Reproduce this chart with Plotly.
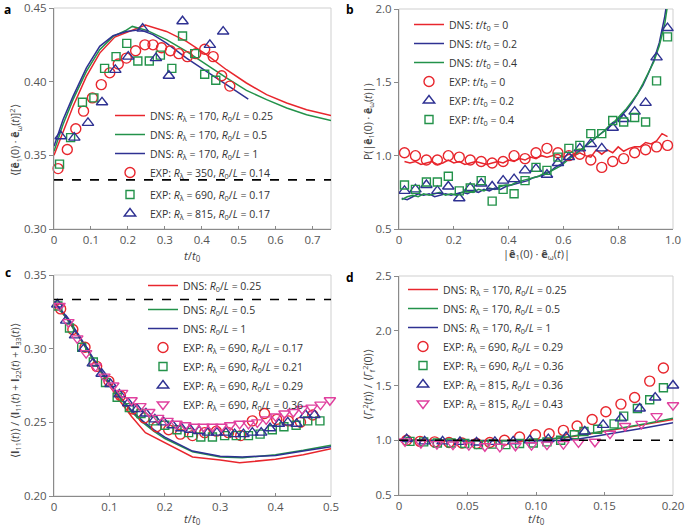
import plotly.graph_objects as go

W, H = 685, 527
RED = "#e8262d"; GREEN = "#23924a"; BLUE = "#2e3192"; PINK = "#e0409e"

# ---------------- panel a ----------------
a_red_line_x = [0, 0.0244, 0.0515, 0.0877, 0.1238, 0.1645, 0.205, 0.2476, 0.3045, 0.3587, 0.413, 0.467, 0.521, 0.5756, 0.63, 0.684, 0.75]
a_red_line_y = [0.350, 0.3663, 0.3832, 0.4036, 0.4194, 0.4303, 0.4341, 0.4384, 0.4341, 0.4273, 0.4183, 0.4081, 0.3991, 0.3912, 0.3855, 0.381, 0.3771]
a_grn_line_x = [0, 0.0244, 0.0515, 0.0877, 0.1238, 0.16, 0.196, 0.212, 0.2515, 0.3045, 0.3587, 0.413, 0.467, 0.521, 0.5756, 0.63, 0.684, 0.75]
a_grn_line_y = [0.3527, 0.371, 0.3878, 0.407, 0.4217, 0.4307, 0.435, 0.4375, 0.4348, 0.4285, 0.4206, 0.4115, 0.4025, 0.3941, 0.3878, 0.3821, 0.3776, 0.3737]
a_blu_line_x = [0, 0.0244, 0.0515, 0.0877, 0.1238, 0.16, 0.196, 0.232, 0.268, 0.3045, 0.3587, 0.413, 0.467, 0.526]
a_blu_line_y = [0.3561, 0.3742, 0.390, 0.4093, 0.424, 0.4312, 0.4341, 0.4353, 0.4319, 0.4262, 0.416, 0.407, 0.398, 0.3882]
a_red_pts_x = [0.011, 0.036, 0.059, 0.080, 0.104, 0.128, 0.151, 0.174, 0.196, 0.221, 0.246, 0.268, 0.291, 0.315, 0.338, 0.361, 0.384, 0.408, 0.431, 0.454, 0.476]
a_red_pts_y = [0.341, 0.354, 0.368, 0.380, 0.389, 0.398, 0.406, 0.412, 0.416, 0.421, 0.425, 0.425, 0.423, 0.421, 0.419, 0.417, 0.419, 0.422, 0.417, 0.404, 0.397]
a_grn_pts_x = [0.015, 0.045, 0.077, 0.108, 0.137, 0.168, 0.197, 0.227, 0.258, 0.288, 0.319, 0.348, 0.381, 0.408, 0.438]
a_grn_pts_y = [0.344, 0.362, 0.386, 0.389, 0.409, 0.417, 0.426, 0.414, 0.414, 0.418, 0.409, 0.431, 0.419, 0.405, 0.401]
a_blu_pts_x = [0.018, 0.055, 0.092, 0.130, 0.166, 0.201, 0.240, 0.276, 0.311, 0.348, 0.422, 0.458]
a_blu_pts_y = [0.363, 0.362, 0.372, 0.386, 0.408, 0.417, 0.436, 0.416, 0.404, 0.441, 0.425, 0.434]
a_ref = 1 / 3
a_x_ticks = [0, 0.1, 0.2, 0.3, 0.4, 0.5, 0.6, 0.7]
a_x_text = ["0", "0.1", "0.2", "0.3", "0.4", "0.5", "0.6", "0.7"]
a_y_ticks = [0.30, 0.35, 0.40, 0.45]

# ---------------- panel b ----------------
b_pts_x = [0.02, 0.06, 0.10, 0.14, 0.18, 0.22, 0.26, 0.30, 0.34, 0.38, 0.42, 0.46, 0.50, 0.54, 0.58, 0.62, 0.66, 0.70, 0.74, 0.78, 0.82, 0.86, 0.90, 0.94, 0.98]
b_red_pts_y = [1.02, 1.00, 0.97, 0.97, 1.00, 0.99, 0.97, 0.96, 0.95, 0.96, 1.00, 0.98, 1.02, 1.05, 1.02, 1.00, 1.01, 0.97, 0.92, 0.96, 0.98, 1.02, 1.04, 1.06, 1.07]
b_blu_pts_y = [0.76, 0.77, 0.80, 0.76, 0.79, 0.71, 0.78, 0.81, 0.79, 0.83, 0.84, 0.90, 0.91, 0.87, 0.95, 0.99, 1.05, 1.08, 1.05, 1.19, 1.25, 1.30, 1.36, 1.67, 1.87]
b_grn_pts_y = [0.80, 0.77, 0.82, 0.82, 0.86, 0.76, 0.78, 0.83, 0.69, 0.77, 0.74, 0.83, 0.92, 0.90, 0.99, 1.05, 1.07, 1.15, 1.15, 1.24, 1.23, 1.26, 1.23, 1.51, 1.81]
b_red_line_x = [0.02, 0.04, 0.06, 0.08, 0.10, 0.12, 0.14, 0.16, 0.18, 0.20, 0.22, 0.24, 0.26, 0.28, 0.30, 0.32, 0.34, 0.36, 0.38, 0.40, 0.42, 0.44, 0.46, 0.48, 0.50, 0.52, 0.54, 0.56, 0.58, 0.60, 0.62, 0.64, 0.66, 0.68, 0.70, 0.72, 0.74, 0.76, 0.78, 0.80, 0.82, 0.84, 0.86, 0.88, 0.90, 0.92, 0.94, 0.96, 0.98]
b_red_line_y = [0.96, 0.95, 0.96, 0.94, 0.95, 0.96, 0.94, 0.95, 0.97, 0.95, 0.96, 0.94, 0.95, 0.96, 0.95, 0.94, 0.95, 0.96, 0.95, 0.97, 0.96, 0.98, 0.97, 0.99, 0.98, 1.00, 0.99, 1.00, 1.01, 0.99, 1.01, 1.00, 1.02, 1.00, 0.99, 1.04, 1.01, 1.04, 1.02, 1.06, 1.03, 1.05, 1.06, 1.06, 1.09, 1.08, 1.10, 1.15, 1.13]
b_line_x = [0.01, 0.03, 0.05, 0.07, 0.09, 0.11, 0.13, 0.15, 0.17, 0.19, 0.21, 0.23, 0.25, 0.27, 0.29, 0.31, 0.33, 0.35, 0.37, 0.39, 0.41, 0.43, 0.45, 0.47, 0.49, 0.51, 0.53, 0.55, 0.57, 0.59, 0.61, 0.63, 0.65, 0.67, 0.69, 0.71, 0.73, 0.75, 0.77, 0.79, 0.81, 0.83, 0.85, 0.87, 0.89, 0.91, 0.93, 0.95, 0.97, 0.99]
b_blu_line_y = [0.71, 0.70, 0.72, 0.74, 0.73, 0.74, 0.72, 0.73, 0.74, 0.73, 0.74, 0.75, 0.74, 0.76, 0.75, 0.77, 0.76, 0.78, 0.77, 0.79, 0.80, 0.81, 0.82, 0.83, 0.85, 0.86, 0.87, 0.89, 0.92, 0.94, 0.97, 1.00, 1.02, 1.05, 1.08, 1.11, 1.14, 1.17, 1.20, 1.23, 1.27, 1.31, 1.36, 1.42, 1.48, 1.56, 1.65, 1.77, 1.95, 2.20]
b_grn_line_y = [0.70, 0.72, 0.73, 0.72, 0.74, 0.73, 0.74, 0.75, 0.73, 0.74, 0.73, 0.75, 0.76, 0.75, 0.77, 0.76, 0.78, 0.77, 0.79, 0.80, 0.80, 0.82, 0.83, 0.84, 0.85, 0.86, 0.88, 0.89, 0.91, 0.93, 0.96, 0.99, 1.02, 1.05, 1.08, 1.11, 1.14, 1.17, 1.21, 1.24, 1.28, 1.32, 1.37, 1.42, 1.49, 1.56, 1.64, 1.75, 1.90, 2.15]
b_x_ticks = [0, 0.2, 0.4, 0.6, 0.8, 1.0]
b_x_text = ["0", "0.2", "0.4", "0.6", "0.8", "1.0"]
b_y_ticks = [0.5, 1.0, 1.5, 2.0]

# ---------------- panel c ----------------
c_red_line_x = [0, 0.02, 0.04, 0.06, 0.08, 0.10, 0.12, 0.14, 0.165, 0.20, 0.25, 0.30, 0.335, 0.40, 0.45, 0.50]
c_red_line_y = [0.331, 0.322, 0.311, 0.299, 0.287, 0.275, 0.264, 0.254, 0.243, 0.236, 0.2265, 0.2245, 0.2225, 0.225, 0.228, 0.232]
c_line_x = [0, 0.02, 0.04, 0.06, 0.08, 0.10, 0.12, 0.14, 0.16, 0.18, 0.20, 0.25, 0.30, 0.34, 0.40, 0.45, 0.50]
c_grn_line_y = [0.331, 0.322, 0.311, 0.299, 0.287, 0.276, 0.266, 0.257, 0.250, 0.244, 0.239, 0.230, 0.2265, 0.226, 0.228, 0.231, 0.2345]
c_blu_line_y = [0.332, 0.323, 0.312, 0.300, 0.288, 0.277, 0.267, 0.258, 0.251, 0.245, 0.240, 0.2305, 0.227, 0.2265, 0.2275, 0.2305, 0.2335]
c_red_pts_x = [0.012, 0.034, 0.056, 0.077, 0.099, 0.120, 0.142, 0.163, 0.185, 0.207, 0.228, 0.250, 0.272, 0.293, 0.315, 0.337, 0.358, 0.380, 0.402, 0.423, 0.445, 0.467]
c_red_pts_y = [0.327, 0.313, 0.301, 0.288, 0.278, 0.268, 0.259, 0.253, 0.247, 0.245, 0.242, 0.241, 0.243, 0.244, 0.243, 0.241, 0.251, 0.256, 0.252, 0.251, 0.250, 0.255]
c_grn_pts_x = [0.007, 0.028, 0.050, 0.071, 0.093, 0.114, 0.136, 0.157, 0.179, 0.200, 0.222, 0.243, 0.265, 0.286, 0.308, 0.329, 0.351, 0.372, 0.394, 0.415, 0.437, 0.458, 0.480]
c_grn_pts_y = [0.329, 0.314, 0.301, 0.291, 0.277, 0.267, 0.260, 0.256, 0.251, 0.248, 0.245, 0.243, 0.240, 0.240, 0.241, 0.241, 0.241, 0.242, 0.245, 0.247, 0.248, 0.251, 0.251]
c_blu_pts_x = [0.006, 0.022, 0.038, 0.054, 0.070, 0.086, 0.102, 0.118, 0.134, 0.150, 0.166, 0.182, 0.198, 0.214, 0.230, 0.246, 0.262, 0.278, 0.294, 0.310, 0.326, 0.342, 0.358, 0.374, 0.390, 0.406, 0.422, 0.438, 0.454, 0.470]
c_blu_pts_y = [0.330, 0.319, 0.309, 0.300, 0.290, 0.283, 0.276, 0.269, 0.263, 0.259, 0.256, 0.252, 0.250, 0.248, 0.246, 0.245, 0.244, 0.243, 0.243, 0.243, 0.242, 0.242, 0.243, 0.243, 0.246, 0.249, 0.250, 0.249, 0.255, 0.255]
c_pnk_pts_x = [0.010, 0.026, 0.042, 0.058, 0.075, 0.091, 0.107, 0.123, 0.140, 0.156, 0.172, 0.188, 0.205, 0.221, 0.237, 0.253, 0.270, 0.286, 0.302, 0.318, 0.335, 0.351, 0.367, 0.383, 0.400, 0.416, 0.432, 0.448, 0.465, 0.481, 0.498]
c_pnk_pts_y = [0.329, 0.318, 0.307, 0.297, 0.288, 0.281, 0.275, 0.270, 0.265, 0.261, 0.257, 0.253, 0.251, 0.249, 0.248, 0.247, 0.247, 0.247, 0.247, 0.248, 0.249, 0.249, 0.250, 0.252, 0.254, 0.256, 0.257, 0.259, 0.260, 0.262, 0.265]
c_ref = 1 / 3
c_x_ticks = [0, 0.1, 0.2, 0.3, 0.4, 0.5]
c_x_text = ["0", "0.1", "0.2", "0.3", "0.4", "0.5"]
c_y_ticks = [0.20, 0.25, 0.30, 0.35]

# ---------------- panel d ----------------
d_line_x = [0, 0.05, 0.10, 0.12, 0.14, 0.16, 0.18, 0.20]
d_red_line_y = [1.0, 0.995, 1.0, 1.02, 1.06, 1.10, 1.145, 1.19]
d_grn_line_y = [1.0, 0.995, 1.0, 1.025, 1.065, 1.105, 1.15, 1.20]
d_blu_line_x = [0, 0.05, 0.10, 0.12, 0.13, 0.14, 0.16, 0.18, 0.20]
d_blu_line_y = [1.0, 0.995, 0.995, 1.0, 1.01, 1.03, 1.07, 1.115, 1.16]
d_red_pts_x = [0.0056, 0.0153, 0.026, 0.0365, 0.046, 0.0566, 0.0663, 0.077, 0.088, 0.0996, 0.1096, 0.120, 0.130, 0.141, 0.151, 0.162, 0.172, 0.183, 0.193]
d_red_pts_y = [1.0, 0.99, 0.985, 0.98, 0.975, 0.97, 0.98, 1.0, 1.03, 1.05, 1.06, 1.09, 1.13, 1.19, 1.26, 1.33, 1.39, 1.54, 1.66]
d_grn_pts_x = [0.008, 0.018, 0.028, 0.038, 0.048, 0.058, 0.068, 0.078, 0.088, 0.098, 0.108, 0.118, 0.128, 0.135, 0.145, 0.157, 0.164, 0.174, 0.183, 0.193]
d_grn_pts_y = [0.99, 0.985, 0.975, 0.975, 0.97, 0.96, 0.965, 0.96, 0.97, 0.975, 0.985, 1.0, 1.05, 1.08, 1.10, 1.15, 1.22, 1.29, 1.37, 1.48]
d_blu_pts_x = [0.0056, 0.0187, 0.0318, 0.0445, 0.0566, 0.070, 0.0834, 0.0955, 0.109, 0.122, 0.1356, 0.149, 0.162, 0.1757, 0.187, 0.200]
d_blu_pts_y = [1.01, 0.99, 0.99, 0.985, 0.98, 0.985, 0.99, 1.0, 1.01, 1.03, 1.08, 1.14, 1.20, 1.29, 1.39, 1.50]
d_pnk_pts_x = [0.0044, 0.016, 0.0277, 0.0394, 0.051, 0.0627, 0.0736, 0.085, 0.0967, 0.108, 0.120, 0.131, 0.143, 0.154, 0.165, 0.177, 0.188, 0.200]
d_pnk_pts_y = [0.99, 0.975, 0.965, 0.96, 0.955, 0.945, 0.94, 0.95, 0.955, 0.96, 0.965, 0.98, 0.986, 1.06, 1.13, 1.15, 1.22, 1.32]
d_ref = 1.0
d_x_ticks = [0, 0.05, 0.10, 0.15, 0.20]
d_x_text = ["0", "0.05", "0.10", "0.15", "0.20"]
d_y_ticks = [0.5, 1.0, 1.5, 2.0, 2.5]

# ---------------- labels ----------------
RL = "<i>R</i><sub>λ</sub>"
RO = "<i>R</i><sub>0</sub>/<i>L</i>"
TT = "<i>t</i>/<i>t</i><sub>0</sub>"

fig = go.Figure()

def line(x, y, color, name, xa, ya, legend, group=None, dash=None, show=True):
    fig.add_trace(go.Scatter(x=x, y=y, mode="lines", name=name, xaxis=xa, yaxis=ya,
                             line=dict(color=color, width=1.5 if dash is None else 1.6, dash=dash),
                             legend=legend, legendgroup=group, showlegend=show))

def pts(x, y, color, sym, name, xa, ya, legend, group=None, size=9):
    fig.add_trace(go.Scatter(x=x, y=y, mode="markers", name=name, xaxis=xa, yaxis=ya,
                             marker=dict(symbol=sym, color=color, size=size,
                                         line=dict(color=color, width=1.4)),
                             legend=legend, legendgroup=group, cliponaxis=False))

# panel a
line(a_red_line_x, a_red_line_y, RED, f"DNS: {RL} = 170, {RO} = 0.25", "x", "y", "legend", "g1")
line(a_grn_line_x, a_grn_line_y, GREEN, f"DNS: {RL} = 170, {RO} = 0.5", "x", "y", "legend", "g1")
line(a_blu_line_x, a_blu_line_y, BLUE, f"DNS: {RL} = 170, {RO} = 1", "x", "y", "legend", "g1")
pts(a_red_pts_x, a_red_pts_y, RED, "circle-open", f"EXP: {RL} = 350, {RO} = 0.14", "x", "y", "legend", "g1", 10)
pts(a_grn_pts_x, a_grn_pts_y, GREEN, "square-open", f"EXP: {RL} = 690, {RO} = 0.17", "x", "y", "legend", "g2", 8)
pts(a_blu_pts_x, a_blu_pts_y, BLUE, "triangle-up-open", f"EXP: {RL} = 815, {RO} = 0.17", "x", "y", "legend", "g2", 10)
line([0, 0.75], [a_ref, a_ref], "black", "ref", "x", "y", "legend", dash="dash", show=False)

# panel b
line(b_red_line_x, b_red_line_y, RED, f"DNS: {TT} = 0", "x2", "y2", "legend2")
line(b_line_x, b_blu_line_y, BLUE, f"DNS: {TT} = 0.2", "x2", "y2", "legend2")
line(b_line_x, b_grn_line_y, GREEN, f"DNS: {TT} = 0.4", "x2", "y2", "legend2")
pts(b_pts_x, b_red_pts_y, RED, "circle-open", f"EXP: {TT} = 0", "x2", "y2", "legend2", size=10)
pts(b_pts_x, b_blu_pts_y, BLUE, "triangle-up-open", f"EXP: {TT} = 0.2", "x2", "y2", "legend2", size=10)
pts(b_pts_x, b_grn_pts_y, GREEN, "square-open", f"EXP: {TT} = 0.4", "x2", "y2", "legend2", size=8)

# panel c
line(c_red_line_x, c_red_line_y, RED, f"DNS: {RO} = 0.25", "x3", "y3", "legend3", "h1")
line(c_line_x, c_grn_line_y, GREEN, f"DNS: {RO} = 0.5", "x3", "y3", "legend3", "h2")
line(c_line_x, c_blu_line_y, BLUE, f"DNS: {RO} = 1", "x3", "y3", "legend3", "h2")
pts(c_red_pts_x, c_red_pts_y, RED, "circle-open", f"EXP: {RL} = 690, {RO} = 0.17", "x3", "y3", "legend3", "h2", 10)
pts(c_grn_pts_x, c_grn_pts_y, GREEN, "square-open", f"EXP: {RL} = 690, {RO} = 0.21", "x3", "y3", "legend3", "h2", 8)
pts(c_blu_pts_x, c_blu_pts_y, BLUE, "triangle-up-open", f"EXP: {RL} = 690, {RO} = 0.29", "x3", "y3", "legend3", "h2", 10)
pts(c_pnk_pts_x, c_pnk_pts_y, PINK, "triangle-down-open", f"EXP: {RL} = 690, {RO} = 0.36", "x3", "y3", "legend3", "h2", 10)
line([0, 0.5], [c_ref, c_ref], "black", "ref", "x3", "y3", "legend3", dash="dash", show=False)

# panel d
line(d_line_x, d_red_line_y, RED, f"DNS: R<sub>λ</sub> = 170, {RO} = 0.25", "x4", "y4", "legend4")
line(d_line_x, d_grn_line_y, GREEN, f"DNS: {RL} = 170, {RO} = 0.5", "x4", "y4", "legend4")
line(d_blu_line_x, d_blu_line_y, BLUE, f"DNS: {RL} = 170, {RO} = 1", "x4", "y4", "legend4")
pts(d_red_pts_x, d_red_pts_y, RED, "circle-open", f"EXP: {RL} = 690, {RO} = 0.29", "x4", "y4", "legend4", size=10)
pts(d_grn_pts_x, d_grn_pts_y, GREEN, "square-open", f"EXP: R<sub>λ</sub> = 690, {RO} = 0.36", "x4", "y4", "legend4", size=8)
pts(d_blu_pts_x, d_blu_pts_y, BLUE, "triangle-up-open", f"EXP: {RL} = 815, {RO} = 0.36", "x4", "y4", "legend4", size=10)
pts(d_pnk_pts_x, d_pnk_pts_y, PINK, "triangle-down-open", f"EXP: {RL} = 815, {RO} = 0.43", "x4", "y4", "legend4", size=10)
line([0, 0.2], [d_ref, d_ref], "black", "ref", "x4", "y4", "legend4", dash="dash", show=False)

FONT = "Open Sans, Liberation Sans, sans-serif"
TICKF = dict(family=FONT, size=11.5, color="#555")

def px_x(p):
    return p / W

def px_y(p):
    return 1 - p / H

def xaxis(dom, rng, tv, tt):
    return dict(domain=[px_x(dom[0]), px_x(dom[1])], range=rng, tickvals=tv, ticktext=tt,
                showline=True, linecolor="#8a8a8a", linewidth=1, showgrid=False, zeroline=False,
                ticks="inside", ticklen=3, tickcolor="#8a8a8a", tickfont=TICKF, automargin=False)

def yaxis(dom, rng, tv, fmt):
    return dict(domain=[px_y(dom[1]), px_y(dom[0])], range=rng, tickvals=tv, tickformat=fmt,
                showline=True, linecolor="#8a8a8a", linewidth=1, showgrid=False, zeroline=False,
                ticks="outside", ticklen=4, tickcolor="#8a8a8a", tickfont=TICKF, automargin=False)

LEGF = dict(family=FONT, size=10.5, color="#333")

def legend(xp, yp, gap=0):
    return dict(x=px_x(xp), y=px_y(yp), xanchor="left", yanchor="top", bgcolor="rgba(0,0,0,0)",
                borderwidth=0, font=LEGF, tracegroupgap=gap, traceorder="grouped" if gap else "normal",
                itemwidth=30)

fig.update_layout(
    width=W, height=H, margin=dict(l=0, r=0, t=0, b=0, autoexpand=False),
    paper_bgcolor="white", plot_bgcolor="white", font=dict(family=FONT),
    xaxis=xaxis((54, 331), [0, 0.75], a_x_ticks, a_x_text),
    yaxis=yaxis((8, 229), [0.30, 0.45], a_y_ticks, ".2f"),
    xaxis2=dict(xaxis((399, 673), [0, 1.0], b_x_ticks, b_x_text), anchor="y2"),
    yaxis2=dict(yaxis((9, 229), [0.5, 2.0], b_y_ticks, ".1f"), anchor="x2"),
    xaxis3=dict(xaxis((54, 331), [0, 0.5], c_x_ticks, c_x_text), anchor="y3"),
    yaxis3=dict(yaxis((275, 496), [0.20, 0.35], c_y_ticks, ".2f"), anchor="x3"),
    xaxis4=dict(xaxis((399, 673), [0, 0.2], d_x_ticks, d_x_text), anchor="y4"),
    yaxis4=dict(yaxis((276, 495), [0.5, 2.5], d_y_ticks, ".1f"), anchor="x4"),
    legend=legend(110, 101, 3),
    legend2=legend(409, 10),
    legend3=legend(143, 271, 5),
    legend4=legend(403, 275),
)

# frames
for xa, ya in [("x", "y"), ("x2", "y2"), ("x3", "y3"), ("x4", "y4")]:
    fig.add_shape(type="rect", xref=f"{xa} domain", yref=f"{ya} domain", x0=0, x1=1, y0=0, y1=1,
                  line=dict(color="#cfcfcf", width=1), layer="below")

def ann(text, xp, yp, angle=0, size=11.5, color="#444"):
    fig.add_annotation(text=text, x=px_x(xp), y=px_y(yp), xref="paper", yref="paper", showarrow=False,
                       xanchor="center", yanchor="middle",
                       textangle=angle, font=dict(family=FONT, size=size, color=color))

# panel letters
for t, xp, yp in [("a", 8, 10), ("b", 350, 10), ("c", 8, 272), ("d", 350, 277)]:
    ann(f"<b>{t}</b>", xp, yp, size=12, color="black")

# axis titles
ann(TT, 192, 256)
ann(TT, 192, 519)
ann(TT, 536, 519)
ann("|<b>ê</b><sub>1</sub>(0) · <b>ê</b><sub>ω</sub>(<i>t</i>)|", 536, 254, size=11)
ann("⟨[<b>ê</b><sub>1</sub>(0) · <b>ê</b><sub>ω</sub>(<i>t</i>)]<sup>2</sup>⟩", 15, 140, angle=-90, size=10.5)
ann("P(|<b>ê</b><sub>1</sub>(0) · <b>ê</b><sub>ω</sub>(<i>t</i>)|)", 369, 122, angle=-90, size=10.5)
ann("⟨<b>I</b><sub>11</sub>(<i>t</i>)⟩ / ⟨<b>I</b><sub>11</sub>(<i>t</i>) + <b>I</b><sub>22</sub>(<i>t</i>) + <b>I</b><sub>33</sub>(<i>t</i>)⟩",
    15, 391, angle=-90, size=10.5)
ann("⟨<i>Γ</i><sub>f</sub><sup>2</sup>(<i>t</i>)⟩ / ⟨<i>Γ</i><sub>f</sub><sup>2</sup>(0)⟩", 368, 385, angle=-90, size=10.5)

fig.write_html("out.html", config={"displayModeBar": False},
               post_script="document.body.style.margin='0px';")
